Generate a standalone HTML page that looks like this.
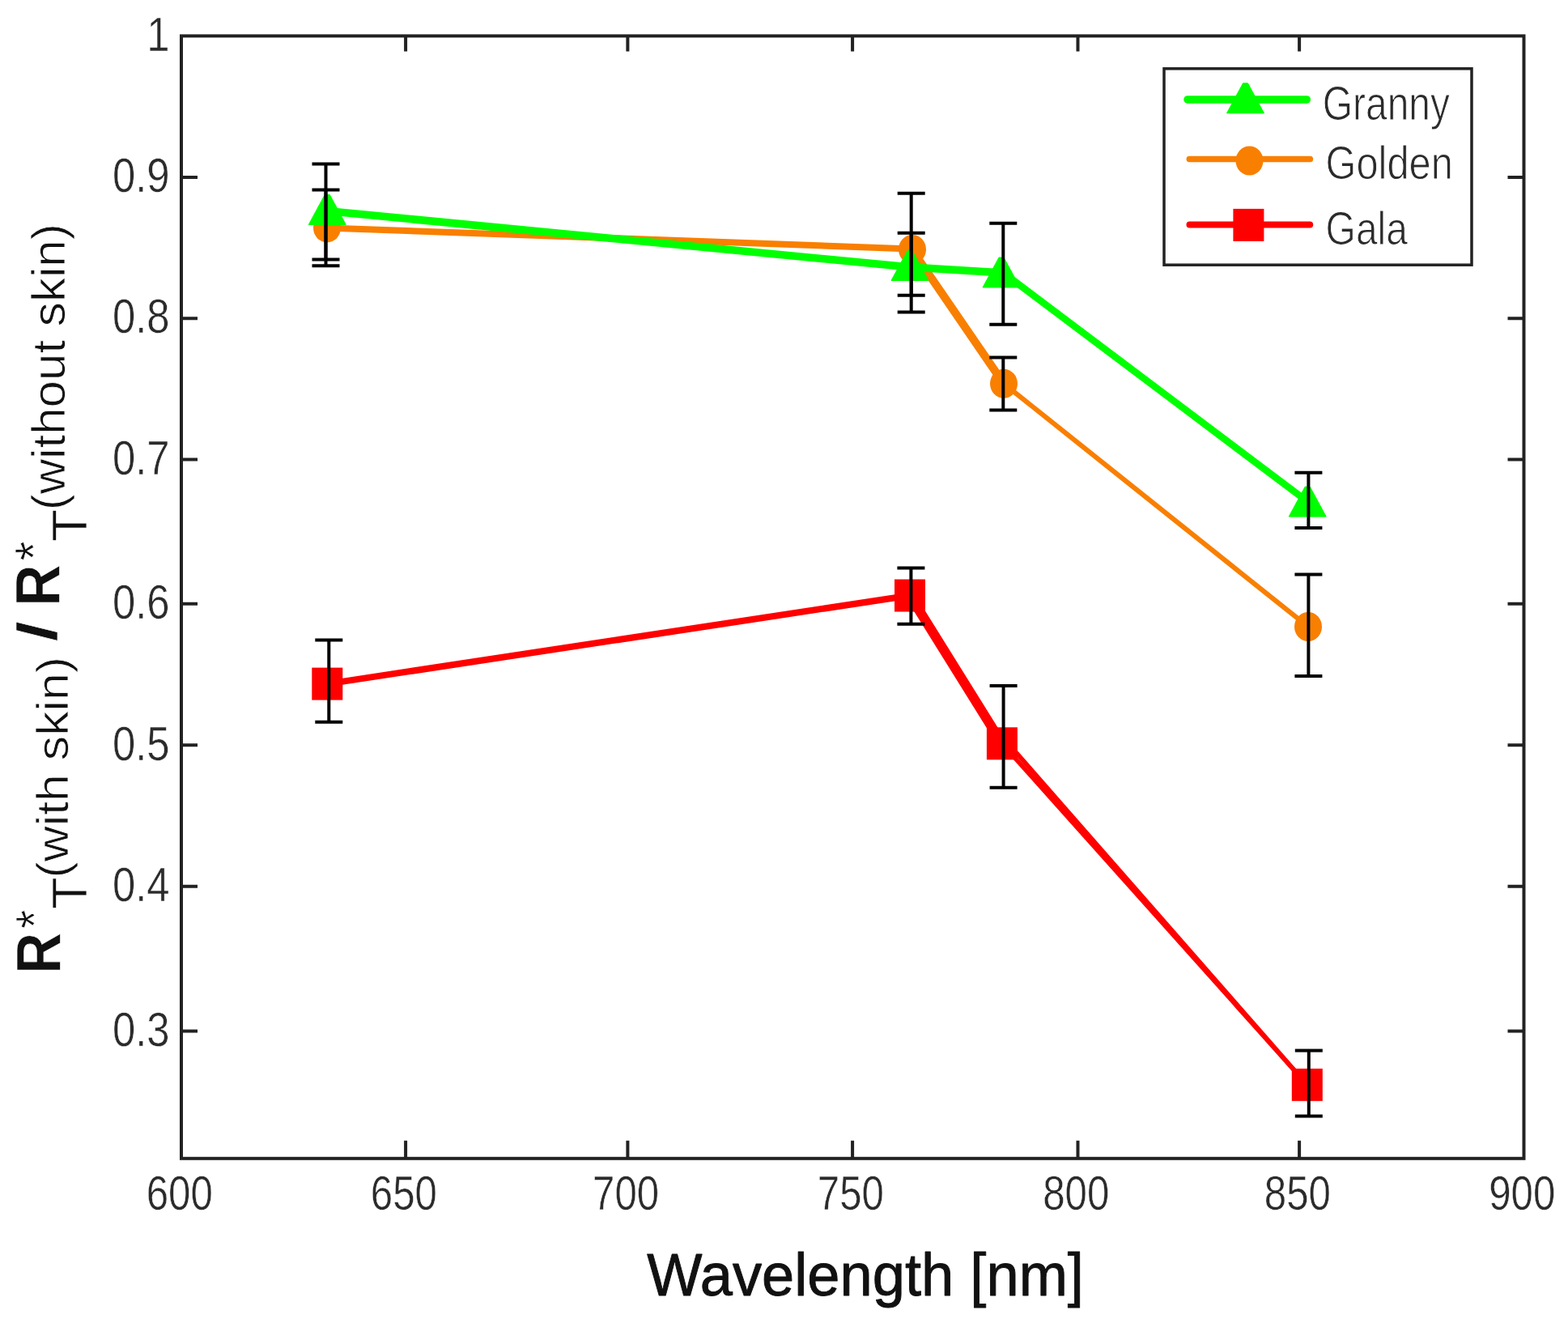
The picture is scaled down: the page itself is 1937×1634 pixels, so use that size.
<!DOCTYPE html>
<html><head><meta charset="utf-8"><title>Wavelength plot</title>
<style>html,body{margin:0;padding:0;background:#fff;}svg{display:block;}text{font-family:"Liberation Sans", Arial, sans-serif;font-size:100px;}</style>
</head><body>
<svg width="1937" height="1634" viewBox="0 0 1937 1634">
<rect width="1937" height="1634" fill="#fff"/>
<rect x="224.0" y="44.4" width="1658.5" height="1386.3999999999999" fill="none" stroke="#222" stroke-width="4"/>
<path d="M224.0 219.1H244.0M1882.5 219.1H1862.5" stroke="#222" stroke-width="4"/>
<path d="M224.0 393.2H244.0M1882.5 393.2H1862.5" stroke="#222" stroke-width="4"/>
<path d="M224.0 567.5H244.0M1882.5 567.5H1862.5" stroke="#222" stroke-width="4"/>
<path d="M224.0 745.8H244.0M1882.5 745.8H1862.5" stroke="#222" stroke-width="4"/>
<path d="M224.0 920.3H244.0M1882.5 920.3H1862.5" stroke="#222" stroke-width="4"/>
<path d="M224.0 1094.7H244.0M1882.5 1094.7H1862.5" stroke="#222" stroke-width="4"/>
<path d="M224.0 1273.4H244.0M1882.5 1273.4H1862.5" stroke="#222" stroke-width="4"/>
<path d="M501.1 1430.8V1408.8M501.1 44.4V63.4" stroke="#222" stroke-width="4"/>
<path d="M775.4 1430.8V1408.8M775.4 44.4V63.4" stroke="#222" stroke-width="4"/>
<path d="M1053.1 1430.8V1408.8M1053.1 44.4V63.4" stroke="#222" stroke-width="4"/>
<path d="M1331.5 1430.8V1408.8M1331.5 44.4V63.4" stroke="#222" stroke-width="4"/>
<path d="M1605.1 1430.8V1408.8M1605.1 44.4V63.4" stroke="#222" stroke-width="4"/>
<path d="M404.3 844.6 L1124 735.5" fill="none" stroke="#ff0000" stroke-width="8" stroke-linejoin="round" stroke-linecap="round"/>
<path d="M1124 735.5 L1237.9 918.3" fill="none" stroke="#ff0000" stroke-width="12" stroke-linejoin="round" stroke-linecap="round"/>
<path d="M1239.6 911.5 L1614.8 1339.8" fill="none" stroke="#ff0000" stroke-width="5.5" stroke-linejoin="round" stroke-linecap="round"/>
<path d="M1237.9 918.3 L1614.8 1339.8" fill="none" stroke="#ff0000" stroke-width="5.5" stroke-linejoin="round" stroke-linecap="round"/>
<rect x="385.3" y="824.6" width="38" height="40" fill="#ff0000"/>
<rect x="1105.0" y="715.5" width="38" height="40" fill="#ff0000"/>
<rect x="1218.9" y="898.3" width="38" height="40" fill="#ff0000"/>
<rect x="1595.8" y="1319.8" width="38" height="40" fill="#ff0000"/>
<path d="M404 281.4 L1126 307.5" fill="none" stroke="#f97f00" stroke-width="8" stroke-linejoin="round" stroke-linecap="round"/>
<path d="M1126 307.5 L1240 473.8" fill="none" stroke="#f97f00" stroke-width="10" stroke-linejoin="round" stroke-linecap="round"/>
<path d="M1240 473.8 L1616 774" fill="none" stroke="#f97f00" stroke-width="6" stroke-linejoin="round" stroke-linecap="round"/>
<ellipse cx="404" cy="281.4" rx="17" ry="18" fill="#f97f00"/>
<ellipse cx="1127" cy="308" rx="17" ry="18" fill="#f97f00"/>
<ellipse cx="1240" cy="473.8" rx="17" ry="18" fill="#f97f00"/>
<ellipse cx="1616" cy="774" rx="17" ry="18" fill="#f97f00"/>
<path d="M403 260.5 L1125 330.0" fill="none" stroke="#00ff00" stroke-width="9.5" stroke-linejoin="round" stroke-linecap="round"/>
<path d="M1125 330.0 L1239.6 337" fill="none" stroke="#00ff00" stroke-width="9.5" stroke-linejoin="round" stroke-linecap="round"/>
<path d="M1239.6 337 L1615.5 619.6" fill="none" stroke="#00ff00" stroke-width="8.5" stroke-linejoin="round" stroke-linecap="round"/>
<path d="M401.3 240.4 L407.3 240.4 L427.3 277.4 L381.3 277.4Z" fill="#00ff00" stroke="#00ff00" stroke-width="1" stroke-linejoin="round"/>
<path d="M1121.0 309.5 L1127.0 309.5 L1147.0 346.5 L1101.0 346.5Z" fill="#00ff00" stroke="#00ff00" stroke-width="1" stroke-linejoin="round"/>
<path d="M1234.0 318.0 L1240.0 318.0 L1260.0 355.0 L1214.0 355.0Z" fill="#00ff00" stroke="#00ff00" stroke-width="1" stroke-linejoin="round"/>
<path d="M1612.2 601.1 L1618.2 601.1 L1638.2 638.1 L1592.2 638.1Z" fill="#00ff00" stroke="#00ff00" stroke-width="1" stroke-linejoin="round"/>
<path d="M402.5 202.4V320.5M385.5 202.4H419.5M385.5 320.5H419.5" stroke="#000" stroke-width="4" fill="none"/>
<path d="M402.5 234.6V328.3M385.5 234.6H419.5M385.5 328.3H419.5" stroke="#000" stroke-width="4" fill="none"/>
<path d="M406.3 790.6V891.7M389.3 790.6H423.3M389.3 891.7H423.3" stroke="#000" stroke-width="4" fill="none"/>
<path d="M1125.7 238.8V385.4M1108.7 238.8H1142.7M1108.7 385.4H1142.7" stroke="#000" stroke-width="4" fill="none"/>
<path d="M1125.7 287.7V364.8M1108.7 287.7H1142.7M1108.7 364.8H1142.7" stroke="#000" stroke-width="4" fill="none"/>
<path d="M1125.4 701.6V770.7M1108.4 701.6H1142.4M1108.4 770.7H1142.4" stroke="#000" stroke-width="4" fill="none"/>
<path d="M1239.3 275.8V400.7M1222.3 275.8H1256.3M1222.3 400.7H1256.3" stroke="#000" stroke-width="4" fill="none"/>
<path d="M1239.3 441.6V506.4M1222.3 441.6H1256.3M1222.3 506.4H1256.3" stroke="#000" stroke-width="4" fill="none"/>
<path d="M1239.6 846.9V972.7M1222.6 846.9H1256.6M1222.6 972.7H1256.6" stroke="#000" stroke-width="4" fill="none"/>
<path d="M1616.4 583.8V652.1M1599.4 583.8H1633.4M1599.4 652.1H1633.4" stroke="#000" stroke-width="4" fill="none"/>
<path d="M1616.4 709.5V835.0M1599.4 709.5H1633.4M1599.4 835.0H1633.4" stroke="#000" stroke-width="4" fill="none"/>
<path d="M1616.8 1297.4V1378.4M1599.8 1297.4H1633.8M1599.8 1378.4H1633.8" stroke="#000" stroke-width="4" fill="none"/>
<rect x="1438" y="84.8" width="380" height="242.4" fill="#fff" stroke="#222" stroke-width="3.5"/>
<path d="M1467 122.9H1614.3" stroke="#00ff00" stroke-width="9.5" stroke-linecap="round"/>
<path d="M1535.5 102.8 L1541.5 102.8 L1561.5 139.8 L1515.5 139.8Z" fill="#00ff00" stroke="#00ff00" stroke-width="1" stroke-linejoin="round"/>
<path d="M1469.3 196.6H1618.4" stroke="#f97f00" stroke-width="7.5" stroke-linecap="round"/>
<ellipse cx="1543.5" cy="198.5" rx="17" ry="18" fill="#f97f00"/>
<path d="M1469.5 277.5H1618.2" stroke="#ff0000" stroke-width="8" stroke-linecap="round"/>
<rect x="1523.4" y="257.9" width="38" height="40" fill="#ff0000"/>
<text transform="matrix(0.50846 0 0 0.58873 209.64 62.61)" font-weight="normal" text-anchor="end" fill="#2b2b2b" stroke="#fff" stroke-width="0.91" stroke-linejoin="round">1</text>
<text transform="matrix(0.50846 0 0 0.58873 209.64 237.31)" font-weight="normal" text-anchor="end" fill="#2b2b2b" stroke="#fff" stroke-width="0.91" stroke-linejoin="round">0.9</text>
<text transform="matrix(0.50846 0 0 0.58873 209.64 411.41)" font-weight="normal" text-anchor="end" fill="#2b2b2b" stroke="#fff" stroke-width="0.91" stroke-linejoin="round">0.8</text>
<text transform="matrix(0.50846 0 0 0.58873 209.64 585.71)" font-weight="normal" text-anchor="end" fill="#2b2b2b" stroke="#fff" stroke-width="0.91" stroke-linejoin="round">0.7</text>
<text transform="matrix(0.50846 0 0 0.58873 209.64 764.01)" font-weight="normal" text-anchor="end" fill="#2b2b2b" stroke="#fff" stroke-width="0.91" stroke-linejoin="round">0.6</text>
<text transform="matrix(0.50846 0 0 0.58873 209.64 938.51)" font-weight="normal" text-anchor="end" fill="#2b2b2b" stroke="#fff" stroke-width="0.91" stroke-linejoin="round">0.5</text>
<text transform="matrix(0.50846 0 0 0.58873 209.64 1112.91)" font-weight="normal" text-anchor="end" fill="#2b2b2b" stroke="#fff" stroke-width="0.91" stroke-linejoin="round">0.4</text>
<text transform="matrix(0.50846 0 0 0.58873 209.64 1291.61)" font-weight="normal" text-anchor="end" fill="#2b2b2b" stroke="#fff" stroke-width="0.91" stroke-linejoin="round">0.3</text>
<text transform="matrix(0.49241 0 0 0.58873 221.75 1494.21)" font-weight="normal" text-anchor="middle" fill="#2b2b2b" stroke="#fff" stroke-width="0.93" stroke-linejoin="round">600</text>
<text transform="matrix(0.49241 0 0 0.58873 498.85 1494.21)" font-weight="normal" text-anchor="middle" fill="#2b2b2b" stroke="#fff" stroke-width="0.93" stroke-linejoin="round">650</text>
<text transform="matrix(0.49241 0 0 0.58873 773.15 1494.21)" font-weight="normal" text-anchor="middle" fill="#2b2b2b" stroke="#fff" stroke-width="0.93" stroke-linejoin="round">700</text>
<text transform="matrix(0.49241 0 0 0.58873 1050.85 1494.21)" font-weight="normal" text-anchor="middle" fill="#2b2b2b" stroke="#fff" stroke-width="0.93" stroke-linejoin="round">750</text>
<text transform="matrix(0.49241 0 0 0.58873 1329.25 1494.21)" font-weight="normal" text-anchor="middle" fill="#2b2b2b" stroke="#fff" stroke-width="0.93" stroke-linejoin="round">800</text>
<text transform="matrix(0.49241 0 0 0.58873 1602.85 1494.21)" font-weight="normal" text-anchor="middle" fill="#2b2b2b" stroke="#fff" stroke-width="0.93" stroke-linejoin="round">850</text>
<text transform="matrix(0.49241 0 0 0.58873 1880.25 1494.21)" font-weight="normal" text-anchor="middle" fill="#2b2b2b" stroke="#fff" stroke-width="0.93" stroke-linejoin="round">900</text>
<text transform="matrix(0.47938 0 0 0.58791 1633.80 147.95)" font-weight="normal" fill="#2b2b2b" stroke="#fff" stroke-width="1.70" stroke-linejoin="round">Granny</text>
<text transform="matrix(0.48778 0 0 0.57687 1637.56 220.82)" font-weight="normal" fill="#2b2b2b" stroke="#fff" stroke-width="1.70" stroke-linejoin="round">Golden</text>
<text transform="matrix(0.47961 0 0 0.57687 1637.60 302.42)" font-weight="normal" fill="#2b2b2b" stroke="#fff" stroke-width="1.71" stroke-linejoin="round">Gala</text>
<text transform="matrix(0.72314 0 0 0.73583 799.14 1600.35)" font-weight="normal" fill="#111" stroke="#111" stroke-width="1.23" stroke-linejoin="round">Wavelength [nm]</text>
<text transform="rotate(-90) matrix(0.70551 0 0 0.78248 -1202.79 73.50)" font-weight="bold" fill="#111" stroke="#fff" stroke-width="0.81" stroke-linejoin="round">R</text>
<text transform="rotate(-90) matrix(0.60000 0 0 0.65429 -1147.00 65.05)" font-weight="normal" fill="#111" stroke="#fff" stroke-width="1.28" stroke-linejoin="round">*</text>
<text transform="rotate(-90) matrix(0.64602 0 0 0.60290 -1122.82 107.30)" font-weight="normal" fill="#111" stroke="#fff" stroke-width="1.28" stroke-linejoin="round">T</text>
<text transform="rotate(-90) matrix(0.60799 0 0 0.56364 -1084.45 83.76)" font-weight="normal" fill="#111" stroke="#fff" stroke-width="1.37" stroke-linejoin="round">(with skin)</text>
<text transform="rotate(-90) matrix(0.89615 0 0 0.67919 -792.20 70.24)" font-weight="bold" fill="#111" stroke="#fff" stroke-width="0.77" stroke-linejoin="round">/</text>
<text transform="rotate(-90) matrix(0.71181 0 0 0.77518 -748.73 73.00)" font-weight="bold" fill="#111" stroke="#fff" stroke-width="0.81" stroke-linejoin="round">R</text>
<text transform="rotate(-90) matrix(0.61690 0 0 0.64000 -692.53 64.06)" font-weight="normal" fill="#111" stroke="#fff" stroke-width="1.27" stroke-linejoin="round">*</text>
<text transform="rotate(-90) matrix(0.66195 0 0 0.60290 -669.25 106.80)" font-weight="normal" fill="#111" stroke="#fff" stroke-width="1.27" stroke-linejoin="round">T</text>
<text transform="rotate(-90) matrix(0.60104 0 0 0.56791 -630.31 80.17)" font-weight="normal" fill="#111" stroke="#fff" stroke-width="1.37" stroke-linejoin="round">(without skin)</text>
</svg>
</body></html>
